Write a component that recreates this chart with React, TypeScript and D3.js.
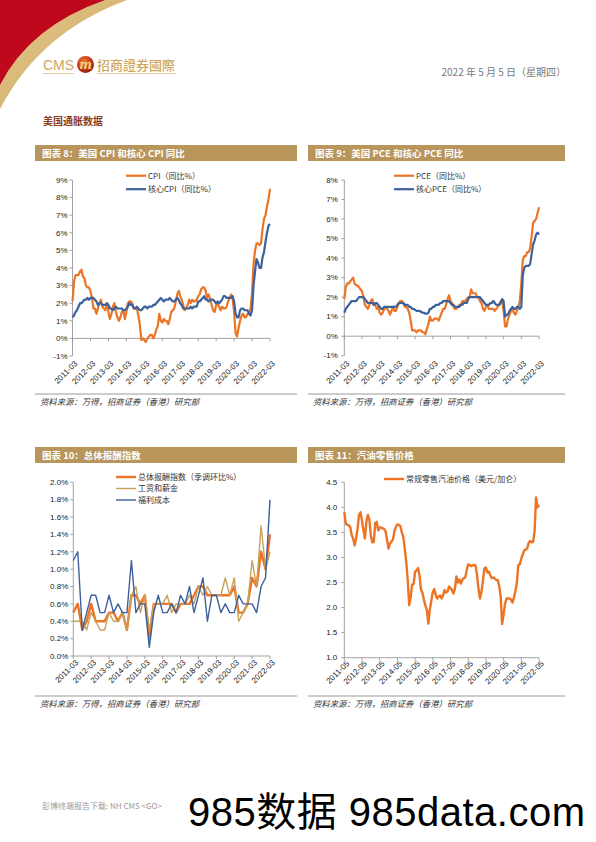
import React from 'react';
import * as d3 from 'd3';

const CJK = '"Noto Sans CJK SC", "Liberation Sans", sans-serif';
const SANS = '"Liberation Sans", Arial, "Noto Sans CJK SC", sans-serif';
const ORANGE = '#EC7424';
const BLUE = '#3C619B';
const TAN = '#C9A05A';
const GOLD = '#B8955B';

// ---------- Chart 8: CPI YoY (2011-03 .. 2022-03, monthly) ----------
const CPI_YOY = [
  2.1, 3.2, 3.6, 3.6, 3.6, 3.8, 3.9, 3.5, 3.4, 3.0,
  2.9, 2.9, 2.7, 2.3, 1.7, 1.7, 1.4, 1.7, 2.0, 2.2, 1.8, 1.7,
  1.6, 2.0, 1.5, 1.1, 1.4, 1.8, 2.0, 1.5, 1.2, 1.0, 1.2, 1.5,
  1.6, 1.1, 1.5, 2.0, 2.1, 2.1, 2.0, 1.7, 1.7, 1.7, 1.3, 0.8,
  -0.1, 0.0, -0.1, -0.2, 0.0, 0.1, 0.2, 0.2, 0.0, 0.2, 0.5, 0.7,
  1.4, 1.0, 0.9, 1.1, 1.0, 1.0, 0.8, 1.1, 1.5, 1.6, 1.7, 2.1,
  2.5, 2.7, 2.4, 2.2, 1.9, 1.6, 1.7, 1.9, 2.2, 2.0, 2.2, 2.1,
  2.1, 2.2, 2.4, 2.5, 2.8, 2.9, 2.9, 2.7, 2.3, 2.5, 2.2, 1.9,
  1.6, 1.5, 1.9, 2.0, 1.8, 1.6, 1.8, 1.7, 1.7, 1.8, 2.1, 2.3,
  2.5, 2.3, 1.5, 0.3, 0.1, 0.6, 1.0, 1.3, 1.4, 1.2, 1.2, 1.4,
  1.4, 1.7, 2.6, 4.2, 5.0, 5.4, 5.4, 5.3, 5.4, 6.2, 6.8, 7.0,
  7.5, 7.9, 8.5,
];
const CORE_CPI_YOY = [
  1.2, 1.3, 1.5, 1.6, 1.8, 2.0, 2.0, 2.1, 2.2, 2.2,
  2.3, 2.2, 2.3, 2.3, 2.3, 2.2, 2.1, 1.9, 2.0, 2.0, 1.9, 1.9,
  1.9, 2.0, 1.9, 1.7, 1.7, 1.6, 1.7, 1.8, 1.7, 1.7, 1.7, 1.7,
  1.6, 1.6, 1.7, 1.8, 2.0, 1.9, 1.9, 1.7, 1.7, 1.8, 1.7, 1.6,
  1.6, 1.7, 1.8, 1.8, 1.7, 1.8, 1.8, 1.8, 1.9, 1.9, 2.0, 2.1,
  2.2, 2.3, 2.2, 2.1, 2.2, 2.2, 2.2, 2.3, 2.2, 2.1, 2.1, 2.2,
  2.3, 2.2, 2.0, 1.9, 1.7, 1.7, 1.7, 1.7, 1.7, 1.8, 1.7, 1.8,
  1.8, 1.8, 2.1, 2.1, 2.2, 2.3, 2.4, 2.2, 2.2, 2.1, 2.2, 2.2,
  2.2, 2.1, 2.0, 2.1, 2.0, 2.1, 2.2, 2.4, 2.4, 2.3, 2.3, 2.3,
  2.3, 2.4, 2.1, 1.4, 1.2, 1.2, 1.6, 1.7, 1.7, 1.6, 1.6, 1.6,
  1.4, 1.3, 1.6, 3.0, 3.8, 4.5, 4.3, 4.0, 4.0, 4.6, 4.9, 5.5,
  6.0, 6.4, 6.5,
];

// ---------- Chart 9: PCE YoY (2011-03 .. 2022-03, monthly) ----------
const PCE_YOY = [
  1.9, 2.5, 2.7, 2.7, 2.8, 2.9, 3.0, 2.7, 2.6, 2.6,
  2.5, 2.4, 2.3, 2.0, 1.6, 1.5, 1.4, 1.6, 1.8, 1.9, 1.6, 1.6,
  1.4, 1.5, 1.2, 1.1, 1.2, 1.4, 1.5, 1.4, 1.3, 1.1, 1.3, 1.5,
  1.3, 1.3, 1.5, 1.7, 1.8, 1.8, 1.7, 1.5, 1.5, 1.4, 1.2, 0.8,
  0.3, 0.3, 0.3, 0.2, 0.3, 0.3, 0.3, 0.2, 0.2, 0.1, 0.4, 0.6,
  1.0, 0.8, 0.8, 0.9, 0.9, 0.9, 0.8, 1.0, 1.2, 1.4, 1.4, 1.6,
  1.9, 2.1, 1.8, 1.7, 1.5, 1.4, 1.4, 1.5, 1.6, 1.6, 1.8, 1.8,
  1.8, 1.9, 2.0, 2.0, 2.4, 2.2, 2.2, 2.2, 2.0, 2.0, 1.8, 1.7,
  1.4, 1.3, 1.5, 1.6, 1.4, 1.4, 1.4, 1.4, 1.3, 1.4, 1.5, 1.6,
  1.8, 1.8, 1.3, 0.5, 0.5, 0.9, 1.1, 1.3, 1.4, 1.2, 1.1, 1.3,
  1.5, 1.8, 2.7, 3.9, 4.1, 4.1, 4.3, 4.3, 4.5, 5.1, 5.8, 5.9,
  6.0, 6.3, 6.6,
];
const CORE_PCE_YOY = [
  1.2, 1.4, 1.5, 1.6, 1.7, 1.8, 1.8, 1.8, 1.8, 1.9,
  2.0, 2.0, 2.0, 2.0, 1.9, 1.8, 1.7, 1.7, 1.7, 1.7, 1.6, 1.7,
  1.7, 1.6, 1.5, 1.4, 1.4, 1.5, 1.5, 1.5, 1.5, 1.5, 1.5, 1.5,
  1.5, 1.5, 1.6, 1.7, 1.7, 1.7, 1.7, 1.6, 1.6, 1.6, 1.5, 1.5,
  1.4, 1.4, 1.35, 1.3, 1.3, 1.3, 1.25, 1.2, 1.2, 1.15, 1.15, 1.2,
  1.4, 1.4, 1.5, 1.5, 1.6, 1.6, 1.6, 1.7, 1.7, 1.8, 1.8, 1.8,
  1.8, 1.8, 1.7, 1.6, 1.6, 1.5, 1.5, 1.5, 1.5, 1.6, 1.6, 1.7,
  1.7, 1.7, 1.9, 2.0, 2.0, 2.0, 2.0, 2.0, 2.0, 2.0, 2.0, 1.9,
  1.8, 1.7, 1.6, 1.6, 1.6, 1.7, 1.7, 1.8, 1.7, 1.6, 1.6, 1.6,
  1.7, 1.9, 1.8, 1.0, 1.1, 1.1, 1.3, 1.4, 1.5, 1.4, 1.4, 1.5,
  1.5, 1.4, 1.5, 3.1, 3.5, 3.6, 3.6, 3.6, 3.7, 4.2, 4.7, 4.9,
  5.2, 5.3, 5.2,
];

const LABELS_03 = ['2011-03', '2012-03', '2013-03', '2014-03', '2015-03', '2016-03', '2017-03', '2018-03', '2019-03', '2020-03', '2021-03', '2022-03'];
const LABELS_05 = ['2011-05', '2012-05', '2013-05', '2014-05', '2015-05', '2016-05', '2017-05', '2018-05', '2019-05', '2020-05', '2021-05', '2022-05'];

// ---------- Chart 10: ECI QoQ (2011Q1 .. 2022Q1, quarterly) ----------
const ECI_TOTAL = [
  0.5, 0.6, 0.3, 0.4, 0.6, 0.4, 0.4, 0.4, 0.5, 0.5, 0.4, 0.5,
  0.3, 0.7, 0.7, 0.6, 0.7, 0.2, 0.6, 0.6, 0.6, 0.6, 0.6, 0.5,
  0.6, 0.6, 0.6, 0.7, 0.8, 0.8, 0.7, 0.7, 0.7, 0.7, 0.7, 0.7,
  0.8, 0.5, 0.5, 0.6, 0.9, 0.8, 1.2, 1.0, 1.4,
];
const ECI_WAGES = [
  0.4, 0.4, 0.4, 0.3, 0.5, 0.4, 0.3, 0.3, 0.5, 0.4, 0.4, 0.5,
  0.3, 0.7, 0.8, 0.5, 0.7, 0.3, 0.6, 0.6, 0.6, 0.7, 0.5, 0.6,
  0.6, 0.6, 0.7, 0.6, 0.8, 0.7, 0.8, 0.7, 0.7, 0.7, 0.9, 0.7,
  0.9, 0.4, 0.5, 0.6, 1.1, 0.8, 1.5, 1.0, 1.2,
];
const ECI_BENEFITS = [
  1.1, 1.2, 0.3, 0.5, 0.7, 0.7, 0.5, 0.5, 0.7, 0.5, 0.6, 0.5,
  0.5, 1.1, 0.5, 0.6, 0.6, 0.1, 0.5, 0.7, 0.5, 0.5, 0.6, 0.5,
  0.7, 0.6, 0.8, 0.5, 0.7, 0.9, 0.4, 0.7, 0.7, 0.5, 0.6, 0.5,
  0.5, 0.7, 0.6, 0.6, 0.6, 0.5, 0.8, 0.9, 1.8,
];

// ---------- Chart 11: Regular gasoline retail price (2011-05 .. 2022-05, monthly) ----------
const GAS_PRICE = [
  3.91, 3.68, 3.65, 3.64, 3.61, 3.45, 3.38, 3.24,
  3.38, 3.58, 3.85, 3.90, 3.73, 3.54, 3.38, 3.72, 3.85, 3.75, 3.44, 3.30,
  3.31, 3.69, 3.71, 3.54, 3.60, 3.60, 3.58, 3.57, 3.52, 3.35, 3.18, 3.28,
  3.32, 3.36, 3.53, 3.61, 3.66, 3.65, 3.63, 3.50, 3.41, 3.17, 2.91, 2.55,
  2.05, 2.21, 2.46, 2.47, 2.72, 2.74, 2.79, 2.64, 2.36, 2.29, 2.15, 2.04,
  1.95, 1.68, 1.96, 2.14, 2.31, 2.37, 2.25, 2.18, 2.22, 2.24, 2.18, 2.25,
  2.35, 2.30, 2.32, 2.42, 2.39, 2.35, 2.28, 2.38, 2.62, 2.50, 2.56, 2.48,
  2.55, 2.59, 2.60, 2.75, 2.86, 2.85, 2.83, 2.84, 2.85, 2.84, 2.65, 2.37,
  2.18, 2.31, 2.54, 2.78, 2.80, 2.70, 2.72, 2.64, 2.59, 2.60, 2.58, 2.55,
  2.55, 2.43, 2.23, 1.67, 1.87, 2.08, 2.18, 2.18, 2.18, 2.16, 2.10, 2.20,
  2.33, 2.50, 2.85, 2.86, 2.98, 3.06, 3.14, 3.16, 3.18, 3.29, 3.33, 3.30,
  3.31, 3.52, 4.20, 4.00, 4.05,
];

interface SeriesDef { name: string; values: number[]; color: string; width: number }

interface ChartProps {
  x0: number; x1: number; yTop: number; yBot: number;
  yDomain: [number, number]; yTicks: number[]; yFmt: (v: number) => string; yLabelGap: number;
  xAxisValue: number; n: number; xLabels: string[]; tickEvery: number; labelY: number;
  series: SeriesDef[]; legendX: number; legendY: number; legendGap: number;
}

function LineChart(p: ChartProps) {
  const x = d3.scaleLinear().domain([0, p.n - 1]).range([p.x0, p.x1]);
  const y = d3.scaleLinear().domain(p.yDomain).range([p.yBot, p.yTop]);
  const axisY = y(p.xAxisValue);
  const line = d3.line<number>().x((_, i) => x(i)).y((d) => y(d));
  const axisColor = '#8c8c8c';
  return (
    <g>
      {/* y axis */}
      <line x1={p.x0} x2={p.x0} y1={p.yTop} y2={p.yBot} stroke={axisColor} strokeWidth={0.8} />
      {p.yTicks.map((t) => (
        <g key={'yt' + t}>
          <line x1={p.x0 - 3} x2={p.x0} y1={y(t)} y2={y(t)} stroke={axisColor} strokeWidth={0.8} />
          <text x={p.x0 - p.yLabelGap} y={y(t)} dy="0.34em" textAnchor="end" fontSize={8} fontFamily={SANS} fill="#222">
            {p.yFmt(t)}
          </text>
        </g>
      ))}
      {/* x axis */}
      <line x1={p.x0} x2={p.x1} y1={axisY} y2={axisY} stroke={axisColor} strokeWidth={0.8} />
      {p.xLabels.map((lab, k) => {
        const xi = x(k * p.tickEvery);
        return (
          <g key={lab}>
            <line x1={xi} x2={xi} y1={axisY} y2={axisY + 3} stroke={axisColor} strokeWidth={0.8} />
            <text
              transform={`translate(${xi + 3.5},${p.labelY}) rotate(-45)`}
              textAnchor="end"
              dy="0.35em"
              fontSize={8}
              fontFamily={SANS}
              fill="#222"
            >
              {lab}
            </text>
          </g>
        );
      })}
      {/* series */}
      {p.series.map((s) => (
        <path key={s.name} d={line(s.values) || ''} fill="none" stroke={s.color} strokeWidth={s.width} strokeLinejoin="round" />
      ))}
      {/* legend */}
      {p.series.map((s, i) => {
        const ly = p.legendY + i * p.legendGap;
        return (
          <g key={'lg' + s.name}>
            <line x1={p.legendX} x2={p.legendX + 20} y1={ly} y2={ly} stroke={s.color} strokeWidth={s.width} />
            <text x={p.legendX + 22} y={ly} dy="0.35em" fontSize={8} fontFamily={CJK} fill="#333">
              {s.name}
            </text>
          </g>
        );
      })}
    </g>
  );
}

function Header({ x, y, w, text }: { x: number; y: number; w: number; text: string }) {
  return (
    <g>
      <rect x={x} y={y} width={w} height={16} fill={GOLD} />
      <text x={x + 7} y={y + 11.6} fontSize={9.5} fontWeight={700} fontFamily={CJK} fill="#fff">
        {text}
      </text>
    </g>
  );
}

function Source({ x, y, w }: { x: number; y: number; w: number }) {
  return (
    <g>
      <line x1={x} x2={x + w} y1={y} y2={y} stroke="#9a9a9a" strokeWidth={1} />
      <text x={x + 5} y={y + 10.5} fontSize={8.4} fontStyle="italic" fontFamily={CJK} fill="#333">
        资料来源：万得，招商证券（香港）研究部
      </text>
    </g>
  );
}

const pct0 = (v: number) => `${v}%`;
const pct1 = (v: number) => `${v.toFixed(1)}%`;
const num1 = (v: number) => v.toFixed(1);

export default function App() {
  return (
    <svg
      width={596}
      height={842}
      xmlns="http://www.w3.org/2000/svg"
      style={{ position: 'absolute', left: 0, top: 0, background: '#fff' }}
    >
      <defs>
        <linearGradient id="goldBand" x1="0" y1="0" x2="1" y2="1">
          <stop offset="0" stopColor="#E6CB8E" />
          <stop offset="1" stopColor="#C9A25C" />
        </linearGradient>
        <radialGradient id="logoBall" cx="0.4" cy="0.35" r="0.7">
          <stop offset="0" stopColor="#F2803A" />
          <stop offset="0.6" stopColor="#C8361A" />
          <stop offset="1" stopColor="#8E1A0C" />
        </radialGradient>
      </defs>
      <rect x={0} y={0} width={596} height={842} fill="#fff" />

      {/* decorative swoosh */}
      <path d="M0,0 H127 Q40,32 0,109 Z" fill="url(#goldBand)" />
      <path d="M0,0 H105 Q30,26 0,85 Z" fill="#C0081C" />

      {/* logo */}
      <text x={43} y={69.5} fontSize={14} fontFamily={SANS} fill="#CFA75E">CMS</text>
      <circle cx={85.5} cy={64.5} r={8.5} fill="url(#logoBall)" />
      <text x={85.5} y={68.5} textAnchor="middle" fontSize={12} fontStyle="italic" fontWeight={700} fontFamily='"DejaVu Serif", serif' fill="#F6D27A">m</text>
      <text x={97} y={69.5} fontSize={13} fontWeight={500} fontFamily='"Noto Sans CJK TC", sans-serif' fill="#CFA75E">招商證券國際</text>
      <line x1={43} x2={74} y1={73.5} y2={73.5} stroke="#DCC08A" strokeWidth={0.8} />
      <line x1={97} x2={176} y1={73.5} y2={73.5} stroke="#DCC08A" strokeWidth={0.8} />

      <text x={566} y={75.5} textAnchor="end" fontSize={10} fontFamily={CJK} fill="#7a7a7a">
        2022 年 5 月 5 日（星期四）
      </text>

      <text x={43} y={125} fontSize={10} fontWeight={700} fontFamily={CJK} fill="#8E3A12">美国通胀数据</text>

      {/* headers */}
      <Header x={35} y={145} w={262} text="图表 8：美国 CPI 和核心 CPI 同比" />
      <Header x={308} y={145} w={257} text="图表 9：美国 PCE 和核心 PCE 同比" />
      <Header x={35} y={447} w={262} text="图表 10：总体报酬指数" />
      <Header x={308} y={447} w={257} text="图表 11：汽油零售价格" />

      {/* Chart 8 */}
      <LineChart
        x0={72.5} x1={270} yTop={180} yBot={356}
        yDomain={[-1, 9]} yTicks={[-1, 0, 1, 2, 3, 4, 5, 6, 7, 8, 9]} yFmt={pct0} yLabelGap={5}
        xAxisValue={0} n={CPI_YOY.length} xLabels={LABELS_03} tickEvery={12} labelY={362}
        series={[
          { name: 'CPI（同比%）', values: CPI_YOY, color: ORANGE, width: 2.2 },
          { name: '核心CPI（同比%）', values: CORE_CPI_YOY, color: BLUE, width: 2.2 },
        ]}
        legendX={126} legendY={175.7} legendGap={13.5}
      />

      {/* Chart 9 */}
      <LineChart
        x0={344.3} x1={539} yTop={180} yBot={355.7}
        yDomain={[-1, 8]} yTicks={[-1, 0, 1, 2, 3, 4, 5, 6, 7, 8]} yFmt={pct0} yLabelGap={6.5}
        xAxisValue={0} n={PCE_YOY.length} xLabels={LABELS_03} tickEvery={12} labelY={362}
        series={[
          { name: 'PCE（同比%）', values: PCE_YOY, color: ORANGE, width: 2.2 },
          { name: '核心PCE（同比%）', values: CORE_PCE_YOY, color: BLUE, width: 2.2 },
        ]}
        legendX={394} legendY={175.7} legendGap={13.5}
      />

      <Source x={35} y={394} w={262} />
      <Source x={308} y={394} w={257} />

      {/* Chart 10 */}
      <LineChart
        x0={73.3} x1={270} yTop={482.3} yBot={656}
        yDomain={[0, 2]} yTicks={[0, 0.2, 0.4, 0.6, 0.8, 1.0, 1.2, 1.4, 1.6, 1.8, 2.0]} yFmt={pct1} yLabelGap={5}
        xAxisValue={0} n={ECI_TOTAL.length} xLabels={LABELS_03} tickEvery={4} labelY={661}
        series={[
          { name: '总体报酬指数（季调环比%）', values: ECI_TOTAL, color: ORANGE, width: 2.4 },
          { name: '工资和薪金', values: ECI_WAGES, color: TAN, width: 1.4 },
          { name: '福利成本', values: ECI_BENEFITS, color: BLUE, width: 1.4 },
        ]}
        legendX={116} legendY={477} legendGap={11.5}
      />

      {/* Chart 11 */}
      <LineChart
        x0={344.3} x1={539} yTop={482.3} yBot={657.7}
        yDomain={[1, 4.5]} yTicks={[1, 1.5, 2, 2.5, 3, 3.5, 4, 4.5]} yFmt={num1} yLabelGap={7}
        xAxisValue={1} n={GAS_PRICE.length} xLabels={LABELS_05} tickEvery={12} labelY={662}
        series={[
          { name: '常规零售汽油价格（美元/加仑）', values: GAS_PRICE, color: ORANGE, width: 2.4 },
        ]}
        legendX={384} legendY={479} legendGap={12}
      />

      <Source x={35} y={696} w={262} />
      <Source x={308} y={696} w={257} />

      {/* footer */}
      <text x={42} y={809} fontSize={8} fontFamily={CJK} fill="#9a9a9a">彭博终端报告下载: NH CMS &lt;GO&gt;</text>
      <text x={188} y={826} fontSize={40} fontFamily={SANS} fill="#000" textLength={397} lengthAdjust="spacing">
        985数据 985data.com
      </text>
    </svg>
  );
}
